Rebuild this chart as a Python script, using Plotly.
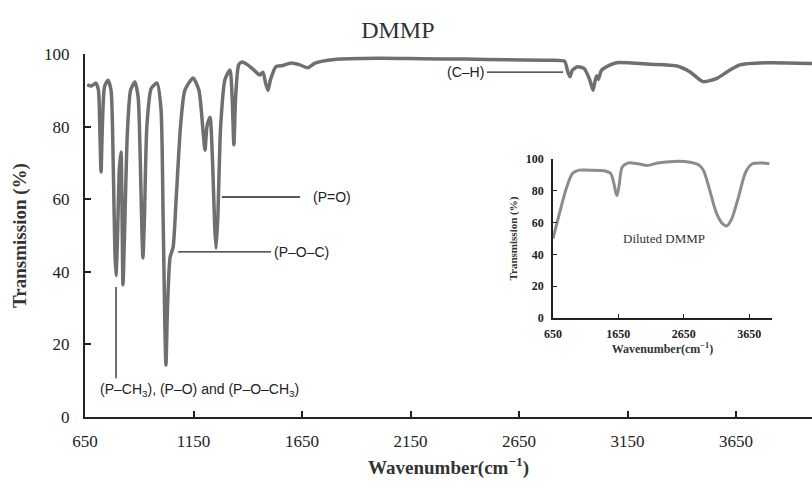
import plotly.graph_objects as go

# Main DMMP spectrum (wavenumber cm-1, transmission %)
wavenumber = [660, 680, 700, 712, 718, 724, 730, 740, 756, 770, 780, 788, 793, 800, 808, 816, 820, 825, 832, 845,
              860, 880, 895, 905, 912, 917, 924, 935, 955, 982, 1000, 1010, 1018, 1023, 1030, 1042, 1056, 1070, 1090, 1110,
              1148, 1175, 1195, 1203, 1212, 1226, 1238, 1248, 1254, 1262, 1275, 1295, 1318, 1328, 1336, 1344, 1358, 1373, 1400, 1430,
              1456, 1470, 1482, 1493, 1505, 1530, 1560, 1600, 1640, 1677, 1710, 1800, 2000, 2200, 2400, 2600, 2800, 2860, 2875, 2885,
              2895, 2920, 2950, 2975, 2991, 3000, 3008, 3015, 3030, 3070, 3101, 3250, 3378, 3440, 3498, 3562, 3620, 3668, 3793, 4000]
transmission = [91.5, 91.2, 92.0, 90.0, 80.0, 67.5, 80.0, 91.0, 92.8, 90.0, 70.0, 45.0, 39.0, 50.0, 68.0, 73.0, 60.0, 36.4, 50.0, 78.0,
                90.0, 92.3, 88.0, 70.0, 52.0, 43.8, 55.0, 80.0, 90.5, 92.0, 85.0, 55.0, 25.0, 14.3, 30.0, 44.0, 46.8, 60.0, 80.0, 90.0,
                93.4, 90.0, 78.0, 73.5, 80.0, 82.6, 70.0, 52.0, 46.5, 55.0, 80.0, 93.0, 95.6, 88.0, 75.0, 88.0, 97.0, 97.8, 97.0, 95.5,
                94.2, 95.0, 92.0, 90.0, 93.0, 96.5, 96.8, 97.5, 97.0, 96.2, 97.5, 98.5, 98.8, 98.7, 98.6, 98.4, 98.3, 98.0, 95.0, 93.7,
                95.5, 96.5, 96.0, 93.0, 90.0, 92.5, 94.0, 93.0, 95.5, 97.0, 97.6, 97.2, 96.7, 95.0, 92.4, 93.3, 95.5, 97.0, 97.6, 97.4]

# Inset: diluted DMMP
dil_wavenumber = [650, 757, 850, 950, 1050, 1200, 1450, 1530, 1580, 1610, 1630, 1660, 1710, 1800, 1950, 2100, 2250, 2500,
                  2750, 2870, 2950, 3050, 3150, 3250, 3310, 3380, 3480, 3600, 3700, 3850, 3960]
dil_transmission = [50, 67, 81, 91, 93, 93, 92.5, 91, 85, 79, 77, 83, 95, 97.5, 97, 96, 97.5, 98.5,
                    98, 96.5, 93, 80, 66, 59, 58, 62, 75, 92, 97, 97.5, 97]

x_ticks = [650, 1150, 1650, 2150, 2650, 3150, 3650]
y_ticks = [0, 20, 40, 60, 80, 100]
inset_x_ticks = [650, 1650, 2650, 3650]

# Peak-assignment annotations (label, text x, text y, line x0, y0, x1, y1, anchor)
labels = ["(P=O)", "(P–O–C)", "(P–CH<sub>3</sub>), (P–O) and (P–O–CH<sub>3</sub>)", "(C–H)"]
label_x = [1690, 1512, 712, 2500]
label_y = [60.6, 45.5, 7.5, 95.0]
label_anchor = ["left", "left", "left", "right"]
line_x0 = [1281, 1079, 793, 2502]
line_y0 = [60.6, 45.5, 35.8, 95.0]
line_x1 = [1641, 1507, 793, 2853]
line_y1 = [60.6, 45.5, 10.7, 95.0]

serif = "Liberation Serif"
sans = "Liberation Sans"

fig = go.Figure()
fig.add_trace(go.Scatter(x=wavenumber, y=transmission, mode="lines",
                         line=dict(color="#6f6f6f", width=3.5, shape="spline", smoothing=0.6),
                         showlegend=False, hoverinfo="skip"))
fig.add_trace(go.Scatter(x=dil_wavenumber, y=dil_transmission, mode="lines", xaxis="x2", yaxis="y2",
                         line=dict(color="#8c8c8c", width=3, shape="spline", smoothing=0.8),
                         showlegend=False, hoverinfo="skip"))

for i in range(len(labels)):
    fig.add_shape(type="line", xref="x", yref="y", x0=line_x0[i], y0=line_y0[i], x1=line_x1[i], y1=line_y1[i],
                  line=dict(color="#222222", width=1.3))
    fig.add_annotation(x=label_x[i], y=label_y[i], xref="x", yref="y", text=labels[i], showarrow=False,
                       xanchor=label_anchor[i], yanchor="middle",
                       font=dict(family=sans, size=14, color="#222222"))

fig.add_annotation(x=2350, y=50, xref="x2", yref="y2", text="Diluted DMMP", showarrow=False,
                   font=dict(family=serif, size=13, color="#333333"))

fig.update_layout(
    width=812, height=489,
    margin=dict(l=85, r=0, t=54, b=72),
    paper_bgcolor="white", plot_bgcolor="white",
    title=dict(text="DMMP", x=0.49, xanchor="center", y=0.94, yanchor="middle",
               font=dict(family=serif, size=24, color="#333333")),
    xaxis=dict(range=[650, 4000], tickvals=x_ticks, ticks="inside", ticklen=6, tickwidth=1.5, tickcolor="#222",
               showline=True, linecolor="#222", linewidth=2, showgrid=False, zeroline=False,
               ticklabelstandoff=8,
               tickfont=dict(family=serif, size=17, color="#222"),
               title=dict(text="<b>Wavenumber(cm<sup>−1</sup>)</b>", standoff=10,
                          font=dict(family=serif, size=19, color="#333"))),
    yaxis=dict(range=[0, 100], tickvals=y_ticks, ticks="inside", ticklen=6, tickwidth=1.5, tickcolor="#222",
               showline=True, linecolor="#222", linewidth=2, showgrid=False, zeroline=False,
               ticklabelstandoff=10,
               tickfont=dict(family=serif, size=17, color="#222"),
               title=dict(text="<b>Transmission (%)</b>", standoff=12,
                          font=dict(family=serif, size=19, color="#333"))),
    xaxis2=dict(domain=[0.6437, 0.945], anchor="y2", range=[650, 4000], tickvals=inset_x_ticks,
                ticks="inside", ticklen=4, tickcolor="#222", showline=True, linecolor="#222", linewidth=1.5,
                showgrid=False, zeroline=False, ticklabelstandoff=4,
                tickfont=dict(family=serif, size=12, color="#222", weight="bold"),
                title=dict(text="<b>Wavenumber(cm<sup>−1</sup>)</b>", standoff=3,
                           font=dict(family=serif, size=12, color="#333"))),
    yaxis2=dict(domain=[0.2727, 0.7107], anchor="x2", range=[0, 100], tickvals=y_ticks,
                ticks="inside", ticklen=4, tickcolor="#222", showline=True, linecolor="#222", linewidth=1.5,
                showgrid=False, zeroline=False, ticklabelstandoff=5,
                tickfont=dict(family=serif, size=12, color="#222", weight="bold"),
                title=dict(text="<b>Transmission (%)</b>", standoff=6,
                           font=dict(family=serif, size=11, color="#333"))),
)

fig.write_html("out.html")
